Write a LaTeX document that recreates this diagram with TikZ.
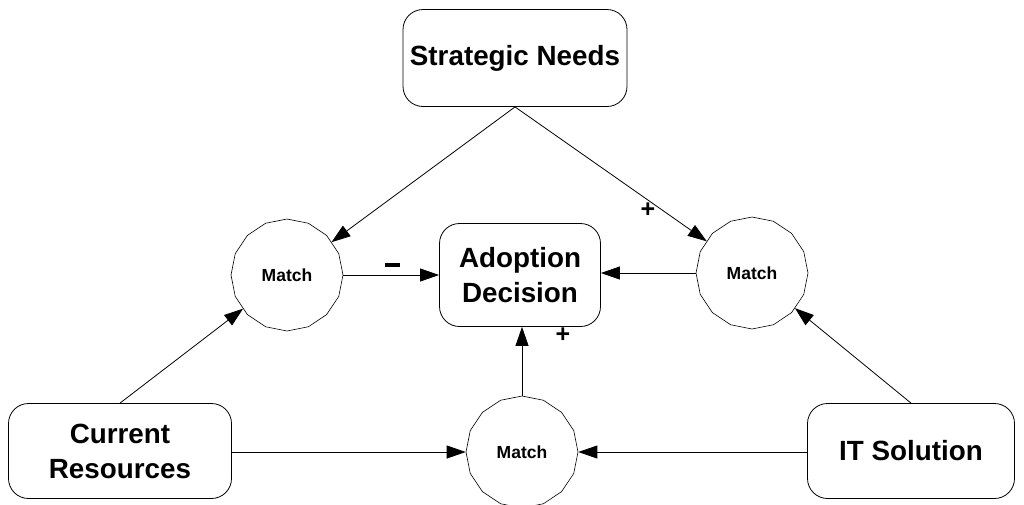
\documentclass[tikz,border=0pt]{standalone}
\usepackage{fontspec}
\setmainfont{Liberation Sans}
\usetikzlibrary{shapes.geometric,arrows.meta}
\begin{document}
\begin{tikzpicture}[x=1pt,y=-1pt,
  box/.style={draw,line width=0.8pt,rounded corners=20pt,inner sep=0pt,align=center,
    font=\fontsize{27.8}{35}\selectfont\bfseries},
  matchnode/.style={draw,line width=0.6pt,regular polygon,regular polygon sides=16,
    shape border rotate=11.25,minimum size=112pt,inner sep=0pt,
    font=\fontsize{17.5}{20}\selectfont\bfseries},
  link/.style={-{Triangle[length=19pt,width=13pt]},line width=0.8pt},
  sign/.style={inner sep=0pt,font=\fontsize{25}{25}\selectfont\bfseries}]
  \clip (0,0) rectangle (1024,504);
  \useasboundingbox (0,0) rectangle (1024,504);

  % decision factors
  \node[box,minimum width=224pt,minimum height=97pt] (sn) at (515,58) {Strategic Needs};
  \node[box,minimum width=161pt,minimum height=103pt] (ad) at (520,275) {Adoption\\Decision};
  \node[box,minimum width=223pt,minimum height=95pt] (cr) at (120,451) {Current\\Resources};
  \node[box,minimum width=207pt,minimum height=95pt] (it) at (911,451) {IT Solution};

  % matching stages
  \node[matchnode] (ml) at (287,275) {Match};
  \node[matchnode] (mr) at (752,273) {Match};
  \node[matchnode] (mb) at (522,452) {Match};

  % influences
  \draw[link] (sn.south) -- (ml);
  \draw[link] (sn.south) -- (mr);
  \draw[link] (ml.east) -- (ad.west |- ml.east);
  \draw[link] (mr.west) -- (ad.east |- mr.west);
  \draw[link] (mb.north) -- (ad.south -| mb.north);
  \draw[link] (cr.north) -- (ml);
  \draw[link] (cr.east |- mb.west) -- (mb.west);
  \draw[link] (it.west |- mb.east) -- (mb.east);
  \draw[link] (it.north) -- (mr);

  % signs
  \node[sign] (minus) at (392,265) {\rule{15pt}{4pt}};
  \node[sign] (plusr) at (648,210) {+};
  \node[sign] (plusb) at (563,335) {+};
\end{tikzpicture}
\end{document}
